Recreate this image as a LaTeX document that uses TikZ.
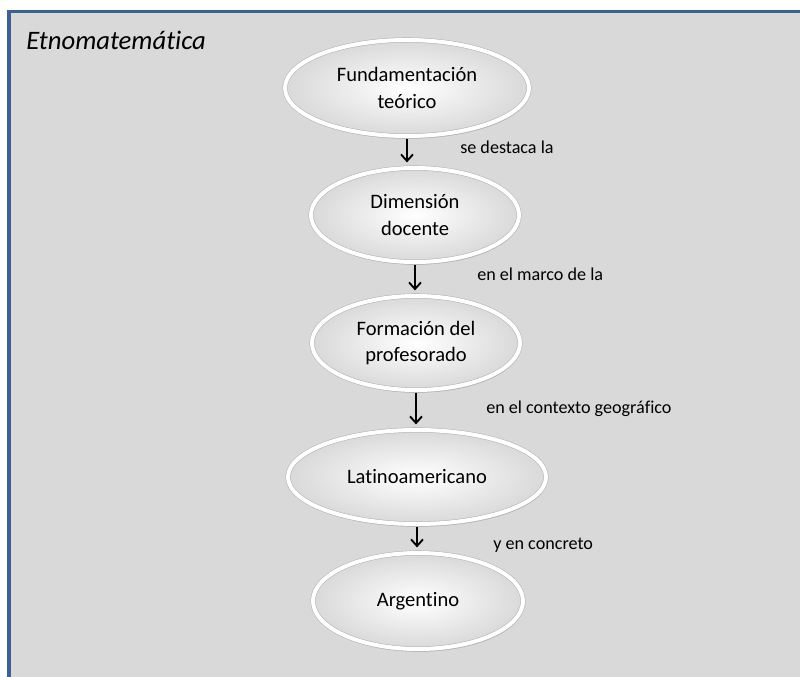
\documentclass[tikz,border=0pt]{standalone}
\usepackage{fontspec}
\setmainfont{Carlito}[Ligatures=NoCommon]
\usetikzlibrary{calc,shapes,shadows,positioning,arrows.meta}
\definecolor{marco}{HTML}{3D6190}
\definecolor{fondo}{HTML}{D9D9D9}
\newcommand{\px}{0.75pt}
\tikzstyle{etapa}=[ellipse, draw=gray!60, line width=0.4pt, double=white, double distance=3pt, inner color=white, outer color=gray!30, drop shadow={shadow xshift=.8pt, shadow yshift=-2pt, opacity=.4}, inner sep=0pt, align=center, font=\fontsize{15.4}{20}\selectfont]
\tikzstyle{paso}=[-{Straight Barb[length=5pt,width=9pt]}, line width=1.4pt, shorten <=2pt, shorten >=4pt]
\tikzstyle{nota}=[anchor=west, inner sep=0pt, font=\fontsize{13.6}{16}\selectfont]

\begin{document}
\begin{tikzpicture}[x=\px, y=-\px]
        \useasboundingbox (0,0) rectangle (800,677);
        \draw[fill=fondo, draw=marco, line width=2.4pt] (9,11.5) rectangle (812,690);
        \node[anchor=base west, inner sep=0pt, font=\fontsize{20}{24}\selectfont\itshape] (titulo) at (26,50) {Etnomatemática};

        \node[etapa, minimum width=244*\px, minimum height=96*\px] (E1) at (407,88) {Fundamentación\\teórico};
        \node[etapa, minimum width=208*\px, minimum height=94*\px] (E2) at (415,215) {Dimensión\\docente};
        \node[etapa, minimum width=208*\px, minimum height=94*\px] (E3) at (416,343) {Formación del\\profesorado};
        \node[etapa, minimum width=258*\px, minimum height=94*\px] (E4) at (417,477) {Latinoamericano};
        \node[etapa, minimum width=210*\px, minimum height=96*\px] (E5) at (418,601) {Argentino};

        \foreach \i/\j in {1/2,2/3,3/4,4/5}{
            \draw[paso] (E\i.south) -- (E\i.south |- E\j.north);
        }

        \node[nota] (n1) at (460,147) {se destaca la};
        \node[nota] (n2) at (477,274) {en el marco de la};
        \node[nota] (n3) at (486,409) {en el contexto geográfico};
        \node[nota] (n4) at (493,545) {y en concreto};
\end{tikzpicture}
\end{document}
